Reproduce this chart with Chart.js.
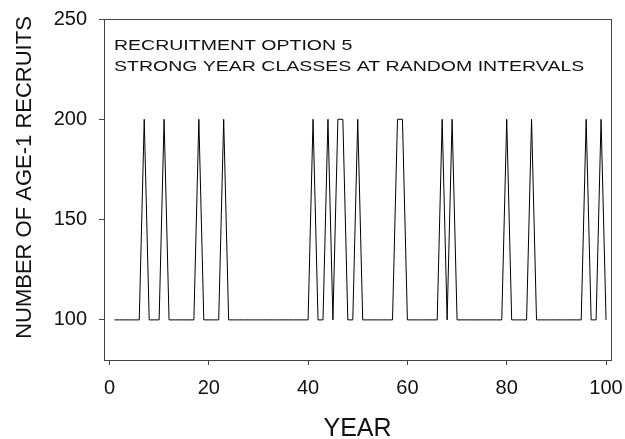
<!DOCTYPE html>
<html lang="en">
<head>
    <meta charset="UTF-8">
    <title>Recruitment option 5</title>
    <script src="https://cdn.jsdelivr.net/npm/chart.js"></script>
    <style>
        html, body { margin: 0; padding: 0; background: #fff; }
        #wrap { width: 625px; height: 439px; }
    </style>
</head>
<body>
    <div id="wrap"><canvas id="recruitChart" width="625" height="439"></canvas></div>

    <script>
        // Years of the simulation
        const years = [
            1, 2, 3, 4, 5, 6, 7, 8, 9, 10,
            11, 12, 13, 14, 15, 16, 17, 18, 19, 20,
            21, 22, 23, 24, 25, 26, 27, 28, 29, 30,
            31, 32, 33, 34, 35, 36, 37, 38, 39, 40,
            41, 42, 43, 44, 45, 46, 47, 48, 49, 50,
            51, 52, 53, 54, 55, 56, 57, 58, 59, 60,
            61, 62, 63, 64, 65, 66, 67, 68, 69, 70,
            71, 72, 73, 74, 75, 76, 77, 78, 79, 80,
            81, 82, 83, 84, 85, 86, 87, 88, 89, 90,
            91, 92, 93, 94, 95, 96, 97, 98, 99, 100
        ];

        // Number of age-1 recruits each year
        const recruits = [
            100, 100, 100, 100, 100, 100, 200, 100, 100, 100,
            200, 100, 100, 100, 100, 100, 100, 200, 100, 100,
            100, 100, 200, 100, 100, 100, 100, 100, 100, 100,
            100, 100, 100, 100, 100, 100, 100, 100, 100, 100,
            200, 100, 100, 200, 100, 200, 200, 100, 100, 200,
            100, 100, 100, 100, 100, 100, 100, 200, 200, 100,
            100, 100, 100, 100, 100, 100, 200, 100, 200, 100,
            100, 100, 100, 100, 100, 100, 100, 100, 100, 200,
            100, 100, 100, 100, 200, 100, 100, 100, 100, 100,
            100, 100, 100, 100, 100, 200, 100, 100, 200, 100
        ];

        const xTicks = [0, 20, 40, 60, 80, 100];
        const yTicks = [100, 150, 200, 250];
        const yTitle = 'NUMBER OF AGE-1 RECRUITS';
        const noteLines = ['RECRUITMENT OPTION 5', 'STRONG YEAR CLASSES AT RANDOM INTERVALS'];

        const FONT = "'Liberation Sans', Arial, Helvetica, sans-serif";
        const frameColor = '#444';

        // no extra room for edge labels, layout padding decides the plot box
        function noEdgePadding(scale) {
            scale.paddingTop = 0;
            scale.paddingBottom = 0;
            scale.paddingLeft = 0;
            scale.paddingRight = 0;
        }

        // box around the plot, y title (sits a bit above centre) and the note text
        const framePlugin = {
            id: 'frame',
            afterDraw(chart) {
                const { ctx, chartArea: a } = chart;
                ctx.save();
                ctx.strokeStyle = frameColor;
                ctx.lineWidth = 1;
                ctx.strokeRect(Math.round(a.left) + 0.5, Math.round(a.top) + 0.5,
                    Math.round(a.right - a.left), Math.round(a.bottom - a.top));

                ctx.fillStyle = '#111';
                ctx.font = '15px ' + FONT;
                ctx.textBaseline = 'alphabetic';
                noteLines.forEach((txt, i) => {
                    ctx.save();
                    ctx.translate(a.left + 10, a.top + 31 + i * 21);
                    ctx.scale(1.3, 1);
                    ctx.fillText(txt, 0, 0);
                    ctx.restore();
                });

                ctx.save();
                ctx.font = '22px ' + FONT;
                ctx.textAlign = 'center';
                ctx.textBaseline = 'middle';
                ctx.translate(25, (a.top + a.bottom) / 2 - 12);
                ctx.rotate(-Math.PI / 2);
                ctx.fillText(yTitle, 0, 0);
                ctx.restore();
                ctx.restore();
            }
        };

        const ctx = document.getElementById('recruitChart').getContext('2d');
        const recruitChart = new Chart(ctx, {
            type: 'line',
            data: {
                labels: years,
                datasets: [{
                    data: recruits,
                    borderColor: '#000',
                    borderWidth: 1,
                    pointRadius: 0,
                    tension: 0,
                    fill: false
                }]
            },
            options: {
                responsive: false,
                animation: false,
                events: [],
                layout: { padding: { top: 19, right: 14, left: 0, bottom: 0 } },
                plugins: {
                    legend: { display: false },
                    tooltip: { enabled: false }
                },
                scales: {
                    x: {
                        type: 'linear',
                        min: -1.1,
                        max: 101,
                        afterBuildTicks: (scale) => { scale.ticks = xTicks.map(v => ({ value: v })); },
                        afterFit: (scale) => { scale.height = 79; noEdgePadding(scale); },
                        border: { display: false },
                        grid: { drawOnChartArea: false, drawTicks: true, tickLength: 5, color: frameColor },
                        ticks: { color: '#111', padding: 11, maxRotation: 0, font: { family: FONT, size: 20 } },
                        title: {
                            display: true,
                            text: 'YEAR',
                            color: '#111',
                            padding: 0,
                            font: { family: FONT, size: 25, lineHeight: 0.8 }
                        }
                    },
                    y: {
                        min: 80,
                        max: 250,
                        afterBuildTicks: (scale) => { scale.ticks = yTicks.map(v => ({ value: v })); },
                        afterFit: (scale) => { scale.width = 104; noEdgePadding(scale); },
                        border: { display: false },
                        grid: { drawOnChartArea: false, drawTicks: true, tickLength: 5, color: frameColor },
                        ticks: { color: '#111', padding: 12, font: { family: FONT, size: 20 } }
                    }
                }
            },
            plugins: [framePlugin]
        });
    </script>
</body>
</html>
